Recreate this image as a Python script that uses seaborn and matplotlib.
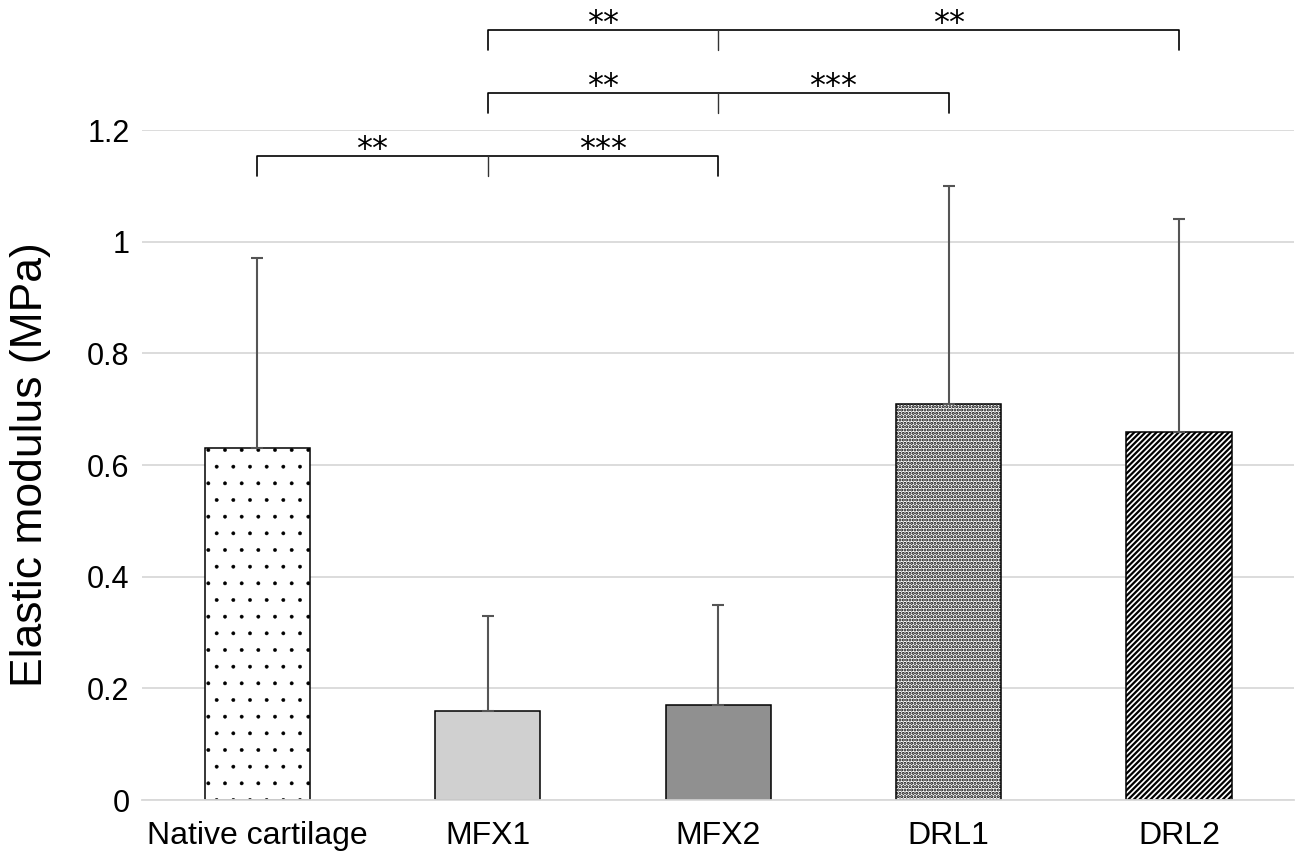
import matplotlib
matplotlib.use("Agg")
import matplotlib.pyplot as plt
import seaborn as sns
import pandas as pd

groups = ["Native cartilage", "MFX1", "MFX2", "DRL1", "DRL2"]
means = [0.63, 0.16, 0.17, 0.71, 0.66]
sds = [0.34, 0.17, 0.18, 0.39, 0.38]
colors = ["white", "#d0d0d0", "#909090", "white", "white"]
hatches = [".", "", "", ".....", "//////"]
hatch_widths = [0.3, 1.0, 1.0, 1.5, 1.6]

# brackets: (left group, middle group, right group, height, left label, right label)
brackets = [
    (0, 1, 2, 1.153, "**", "***"),
    (1, 2, 3, 1.266, "**", "***"),
    (1, 2, 4, 1.379, "**", "**"),
]

df = pd.DataFrame({"group": groups, "mean": means})

sns.set_theme(style="whitegrid")
plt.rcParams["font.family"] = ["Liberation Sans", "DejaVu Sans"]

fig = plt.figure(figsize=(12.96, 8.57), dpi=100)
ax = fig.add_axes([0.1096, 0.0665, 0.889, 0.7818])

sns.barplot(data=df, x="group", y="mean", hue="group", palette=colors,
            errorbar=None, width=0.456, edgecolor="black", linewidth=1.1,
            legend=False, ax=ax)

for patch, h, hw in zip(ax.patches, hatches, hatch_widths):
    if hasattr(patch, "set_hatch_linewidth"):
        patch.set_hatch_linewidth(hw)
    patch.set_hatch(h)

ax.errorbar(range(len(groups)), means, yerr=[[0] * len(sds), sds], fmt="none",
            ecolor="#555555", elinewidth=1.5, capsize=4, capthick=1.5, zorder=1)

for a, m, b, y, l1, l2 in brackets:
    drop = 0.036
    ax.plot([a, a, b, b], [y - drop, y, y, y - drop], color="black", lw=1.2,
            clip_on=False)
    ax.plot([m, m], [y - drop, y], color="#333333", lw=1.0, clip_on=False)
    for xt, lab in [((a + m) / 2, l1), ((m + b) / 2, l2)]:
        ax.text(xt, y - 0.003, lab, ha="center", va="baseline", fontsize=23,
                family="DejaVu Sans", color="black")

ax.set_xlim(-0.5, 4.5)
ax.set_ylim(0, 1.2)
ax.set_yticks([0, 0.2, 0.4, 0.6, 0.8, 1.0, 1.2])
ax.set_yticklabels(["0", "0.2", "0.4", "0.6", "0.8", "1", "1.2"])
ax.tick_params(axis="both", length=0, colors="black")
ax.tick_params(axis="x", labelsize=23, pad=15)
ax.tick_params(axis="y", labelsize=22, pad=9)
ax.set_xlabel("")
ax.set_ylabel("Elastic modulus (MPa)", fontsize=32, labelpad=26, color="black")
ax.grid(axis="x", visible=False)
ax.grid(axis="y", color="#d9d9d9", lw=1.3)
ax.set_axisbelow(True)
for side in ["top", "right", "left"]:
    ax.spines[side].set_visible(False)
ax.spines["bottom"].set_color("#d9d9d9")
ax.spines["bottom"].set_linewidth(1.3)

fig.savefig("out.png", dpi=100)
